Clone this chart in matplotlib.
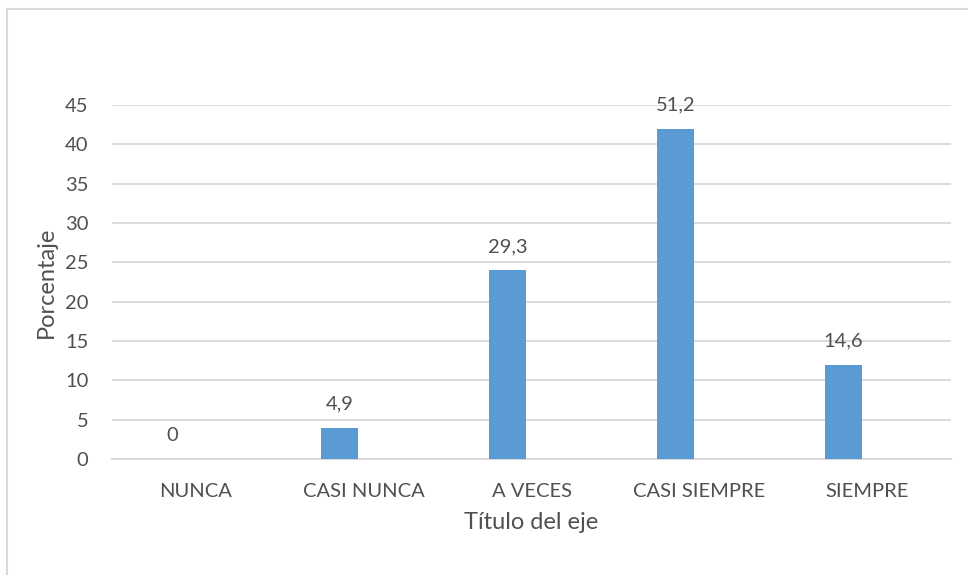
import matplotlib.pyplot as plt
from matplotlib.patches import Rectangle
import numpy as np

plt.rcParams['font.family'] = ['Lato', 'DejaVu Sans']

categorias = ['NUNCA', 'CASI NUNCA', 'A VECES', 'CASI SIEMPRE', 'SIEMPRE']
frecuencias = [0, 4, 24, 42, 12]          # altura de las barras
porcentajes = [0, 4.9, 29.3, 51.2, 14.6]  # etiquetas de datos
ticks_y = [0, 5, 10, 15, 20, 25, 30, 35, 40, 45]

gris_texto = '#505050'
gris_linea = '#D9D9D9'
azul = '#5B9BD5'

fig = plt.figure(figsize=(9.68, 5.75), dpi=100)
ax = fig.add_axes([112/968, 1-459/575, (951-112)/968, (459-105)/575])

x = np.arange(len(categorias))
desplazamiento = -0.143  # la barra va corrida a la izquierda como en excel
barras = ax.bar(x + desplazamiento, frecuencias, width=0.22, color=azul, zorder=3)

for xi, h, p in zip(x, frecuencias, porcentajes):
    txt = ('%g' % p).replace('.', ',')
    ax.annotate(txt, (xi + desplazamiento, h), xytext=(0, 11), textcoords='offset points',
                ha='center', va='bottom', fontsize=14.5, color=gris_texto)

ax.set_xlim(-0.5, len(categorias) - 0.5)
ax.set_ylim(0, 45)
ax.set_yticks(ticks_y)
ax.set_xticks(x)
ax.set_xticklabels(categorias)
ax.tick_params(axis='both', length=0, labelsize=14.5, labelcolor=gris_texto)
ax.tick_params(axis='x', pad=17)
ax.tick_params(axis='y', pad=17)

ax.grid(axis='y', color=gris_linea, linewidth=1.3, zorder=0)
for lado in ['top', 'right', 'left']:
    ax.spines[lado].set_visible(False)
ax.spines['bottom'].set_color(gris_linea)
ax.spines['bottom'].set_linewidth(1.5)

ax.set_xlabel('Título del eje', fontsize=17, color=gris_texto, labelpad=9)
ax.set_ylabel('Porcentaje', fontsize=17, color=gris_texto, labelpad=6)

# borde del area del grafico (se sale por la derecha y abajo)
fig.patches.append(Rectangle((7/968, -0.1), 1.2, 1.1 - 9/575, transform=fig.transFigure,
                             fill=False, edgecolor=gris_linea, linewidth=1.5))

fig.savefig('out.png', dpi=100)
